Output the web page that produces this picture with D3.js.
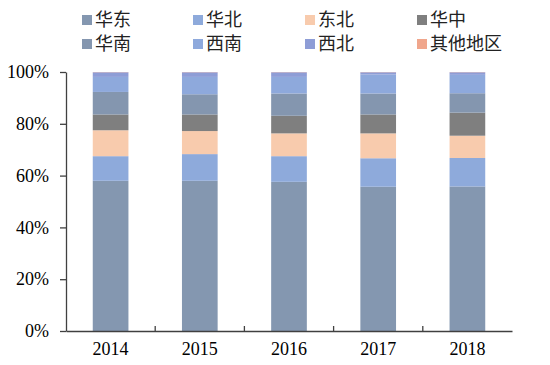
<!DOCTYPE html>
<html>
<head>
<meta charset="utf-8">
<script src="https://cdn.jsdelivr.net/npm/d3@7"></script>
<style>
  body { margin: 0; background: #fff; }
  svg { display: block; }
</style>
</head>
<body>
<script>
// years and regions, bottom of the stack first
const years = ['2014', '2015', '2016', '2017', '2018']
const regions = ['华东', '华北', '东北', '华中', '华南', '西南', '西北', '其他地区']

// share of each region per year (%)
const huadong = [58.0, 58.0, 57.6, 55.7, 55.8]
const huabei = [9.5, 10.3, 9.9, 11.0, 11.0]
const dongbei = [10.0, 8.9, 8.8, 9.6, 8.6]
const huazhong = [6.1, 6.4, 6.8, 7.3, 8.9]
const huanan = [8.7, 7.8, 8.6, 8.1, 7.5]
const xinan = [5.8, 6.7, 6.4, 7.3, 7.1]
const xibei = [1.8, 1.8, 1.8, 0.9, 1.0]
const qita = [0.1, 0.1, 0.1, 0.1, 0.1]

const colors = ['#8497b0', '#8eaadb', '#f8cbad', '#7f7f7f', '#8496af', '#8ea9dc', '#8e9dd6', '#f0a68c']

const yTicks = [0, 0.2, 0.4, 0.6, 0.8, 1]

const series = [huadong, huabei, dongbei, huazhong, huanan, xinan, xibei, qita]
const rows = years.map((y, i) => {
  const r = { year: y }
  regions.forEach((name, k) => { r[name] = series[k][i] / 100 })
  return r
})

const width = 550
const height = 365
const margin = { top: 72, right: 38, bottom: 34, left: 66 }
const serif = '"Liberation Serif", "Times New Roman", "DejaVu Serif", serif'

const svg = d3.select('body').append('svg')
  .attr('width', width)
  .attr('height', height)

const x = d3.scaleBand()
  .domain(years)
  .range([margin.left, width - margin.right])
  .paddingInner(0.6)
  .paddingOuter(0.3)

const y = d3.scaleLinear()
  .domain([0, 1])
  .range([height - margin.bottom, margin.top])

const stack = d3.stack().keys(regions)(rows)

svg.append('g')
  .selectAll('g')
  .data(stack)
  .join('g')
    .attr('fill', (d, i) => colors[i])
  .selectAll('rect')
  .data(d => d)
  .join('rect')
    .attr('x', d => x(d.data.year))
    .attr('y', d => y(d[1]))
    .attr('width', x.bandwidth())
    .attr('height', d => y(d[0]) - y(d[1]))

// y axis
const yAxis = svg.append('g')
  .attr('transform', `translate(${margin.left},0)`)
  .call(d3.axisLeft(y).tickValues(yTicks).tickFormat(d3.format('.0%')).tickSize(6).tickSizeOuter(0).tickPadding(11))
yAxis.selectAll('line, path').attr('stroke', '#404040').attr('stroke-width', 1.3)
yAxis.selectAll('text')
  .attr('font-family', serif)
  .attr('font-size', 18)
  .attr('fill', '#000')

// x axis, ticks between the categories pointing up
const xAxis = svg.append('g')
  .attr('transform', `translate(0,${height - margin.bottom})`)
  .call(d3.axisBottom(x).tickSize(0).tickSizeOuter(0).tickPadding(11))
xAxis.select('.domain').attr('stroke', '#404040').attr('stroke-width', 1.3)
xAxis.selectAll('text')
  .attr('font-family', serif)
  .attr('font-size', 18)
  .attr('fill', '#000')

const step = x.step()
xAxis.selectAll('.sep')
  .data(years.slice(1))
  .join('line')
    .attr('class', 'sep')
    .attr('x1', d => x(d) - (step - x.bandwidth()) / 2)
    .attr('x2', d => x(d) - (step - x.bandwidth()) / 2)
    .attr('y1', 0)
    .attr('y2', -5)
    .attr('stroke', '#404040')
    .attr('stroke-width', 1.3)

// legend: two rows of four
const legendX = [82, 193, 305, 417]
const legendY = [20, 44]
const legend = svg.append('g')
  .selectAll('g')
  .data(regions)
  .join('g')
    .attr('transform', (d, i) => `translate(${legendX[i % 4]},${legendY[Math.floor(i / 4)]})`)

legend.append('rect')
  .attr('x', 0)
  .attr('y', -5)
  .attr('width', 10)
  .attr('height', 10)
  .attr('fill', (d, i) => colors[i])

legend.append('text')
  .attr('x', 13)
  .attr('y', 0)
  .attr('dy', '0.35em')
  .attr('font-family', '"Noto Sans CJK SC", sans-serif')
  .attr('font-size', 18)
  .attr('fill', '#222')
  .text(d => d)
</script>
</body>
</html>
